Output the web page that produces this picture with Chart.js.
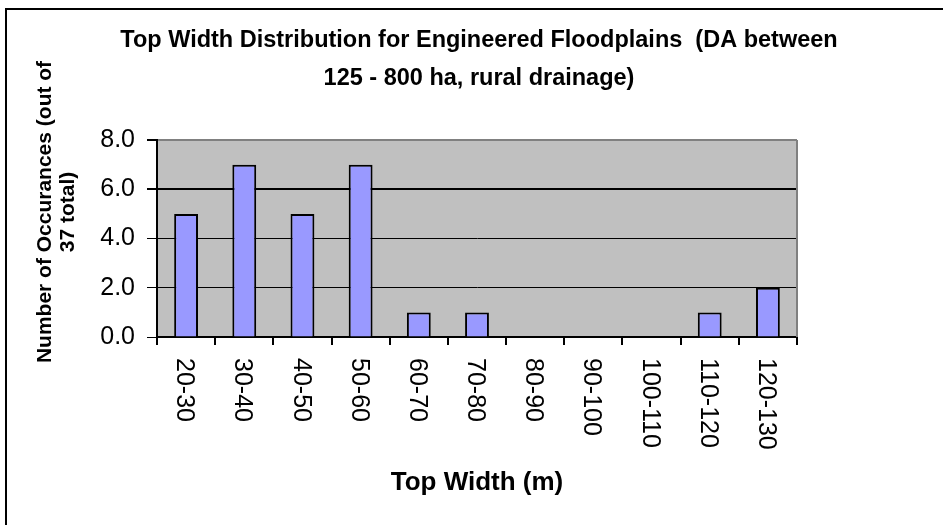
<!DOCTYPE html>
<html>
<head>
<meta charset="utf-8">
<title>Top Width Distribution</title>
<script src="https://cdn.jsdelivr.net/npm/chart.js@4.4.1/dist/chart.umd.min.js"></script>
<style>
  body { margin: 0; background: #fff; }
  #chart { display: block; }
</style>
</head>
<body>
<canvas id="chart" width="943" height="525"></canvas>
<script>
const categories = ['20-30', '30-40', '40-50', '50-60', '60-70', '70-80', '80-90', '90-100', '100-110', '110-120', '120-130'];
const occurrences = [5, 7, 5, 7, 1, 1, 0, 0, 0, 1, 2];
const yTickValues = [0, 2, 4, 6, 8];
const titleLines = ['Top Width Distribution for Engineered Floodplains  (DA between', '125 - 800 ha, rural drainage)'];
const yTitleLines = ['Number of Occurances (out of', '37 total)'];
const xTitle = 'Top Width (m)';

const FONT = "'Liberation Sans', Arial, Helvetica, sans-serif";

// frame, plot background, clockwise x labels and the two-line y title
const decorations = {
  id: 'decorations',
  beforeDraw: (chart) => {
    const { ctx, chartArea: a } = chart;
    ctx.save();
    ctx.fillStyle = '#fff';
    ctx.fillRect(0, 0, chart.width, chart.height);
    ctx.strokeStyle = '#000';
    ctx.lineWidth = 2;
    ctx.beginPath();
    ctx.moveTo(6, chart.height);
    ctx.lineTo(6, 9);
    ctx.lineTo(chart.width, 9);
    ctx.stroke();
    ctx.fillStyle = '#c0c0c0';
    ctx.fillRect(a.left, a.top, a.right - a.left, a.bottom - a.top);
    ctx.restore();
  },
  afterDraw: (chart) => {
    const { ctx, chartArea: a } = chart;
    const xScale = chart.scales.x;
    ctx.save();
    ctx.strokeStyle = '#808080';
    ctx.lineWidth = 2;
    ctx.beginPath();
    ctx.moveTo(a.right, a.top);
    ctx.lineTo(a.right, a.bottom);
    ctx.stroke();

    ctx.fillStyle = '#000';
    ctx.font = `25px ${FONT}`;
    ctx.textAlign = 'left';
    ctx.textBaseline = 'middle';
    categories.forEach((label, i) => {
      const x = xScale.getPixelForValue(i) - 2;
      ctx.save();
      ctx.translate(x, a.bottom + 21);
      ctx.rotate(Math.PI / 2);
      ctx.fillText(label, 0, 0);
      ctx.restore();
    });

    ctx.font = `bold 21px ${FONT}`;
    ctx.textAlign = 'center';
    ctx.translate(45, 212);
    ctx.rotate(-Math.PI / 2);
    yTitleLines.forEach((line, i) => ctx.fillText(line, 0, i * 23));
    ctx.restore();
  }
};

const ctx = document.getElementById('chart');

new Chart(ctx, {
  type: 'bar',
  data: {
    labels: categories,
    datasets: [{
      data: occurrences,
      backgroundColor: '#9999ff',
      borderColor: '#000',
      borderWidth: 2,
      barPercentage: 0.41,
      categoryPercentage: 1
    }]
  },
  options: {
    responsive: false,
    animation: false,
    devicePixelRatio: 1,
    layout: { padding: { left: 15, right: 0, top: 0, bottom: 0 } },
    plugins: {
      legend: { display: false },
      tooltip: { enabled: false },
      title: {
        display: true,
        text: titleLines,
        color: '#000',
        font: { family: FONT, size: 23.5, weight: 'bold', lineHeight: 1.6 },
        padding: { top: 22, bottom: 42.8 }
      }
    },
    scales: {
      x: {
        afterFit: (s) => { s.height = 188; },
        border: { color: '#000', width: 2 },
        grid: { drawOnChartArea: false, drawTicks: true, tickLength: 8, color: '#000', lineWidth: 2 },
        ticks: { display: false },
        title: {
          display: true,
          text: xTitle,
          color: '#000',
          font: { family: FONT, size: 26, weight: 'bold', lineHeight: 1.2 },
          padding: { top: 0, bottom: 27 }
        }
      },
      y: {
        min: yTickValues[0],
        max: yTickValues[yTickValues.length - 1],
        afterFit: (s) => { s.width = 142; },
        afterBuildTicks: (s) => { s.ticks = yTickValues.map(v => ({ value: v })); },
        border: { color: '#000', width: 2 },
        grid: {
          color: (c) => c.tick && c.tick.value === 8 ? '#808080' : '#000',
          lineWidth: (c) => c.tick && (c.tick.value === 8 || c.tick.value === 6) ? 2 : 1,
          tickColor: '#000',
          tickLength: 10
        },
        ticks: {
          color: '#000',
          padding: 12,
          font: { family: FONT, size: 25 },
          callback: (v) => Number(v).toFixed(1)
        }
      },
      // empty strip on the right, keeps the plot narrower than the full-width title
      spacer: {
        type: 'linear',
        position: 'right',
        afterFit: (s) => { s.width = 146; },
        border: { display: false },
        grid: { display: false },
        ticks: { display: false }
      }
    }
  },
  plugins: [decorations]
});
</script>
</body>
</html>
